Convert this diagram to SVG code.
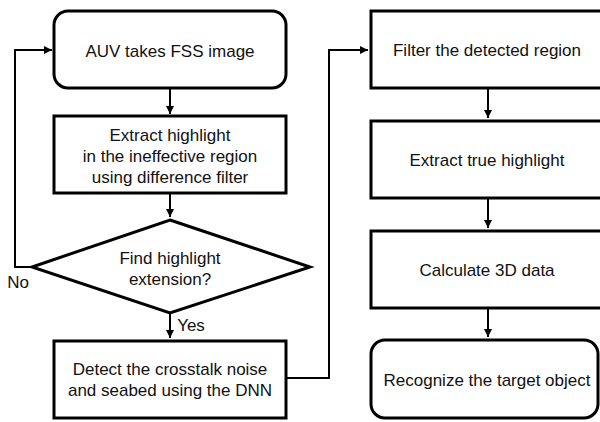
<svg xmlns="http://www.w3.org/2000/svg" width="600" height="422" viewBox="0 0 600 422">
  <style>
    .box { fill: #ffffff; stroke: #000000; stroke-width: 3; }
    .line { fill: none; stroke: #000000; stroke-width: 2; }
    text { font-family: "Liberation Sans", Arial, sans-serif; font-size: 17px; fill: #111111; text-anchor: middle; dominant-baseline: central; }
  </style>
  <defs>
    <marker id="arrow" viewBox="0 0 10 10" refX="10" refY="5" markerWidth="4" markerHeight="4" orient="auto" markerUnits="strokeWidth">
      <path d="M0,0 L10,5 L0,10 z" fill="#000000"/>
    </marker>
  </defs>
  <rect width="600" height="422" fill="#ffffff"/>

  <g id="connectors">
    <path class="line" d="M170,88 V114" marker-end="url(#arrow)"/>
    <path class="line" d="M170,193 V217" marker-end="url(#arrow)"/>
    <path class="line" d="M32,267 H15 V50 H52" marker-end="url(#arrow)"/>
    <path class="line" d="M170,313 V338" marker-end="url(#arrow)"/>
    <path class="line" d="M287,378 H329 V50 H368" marker-end="url(#arrow)"/>
    <path class="line" d="M488,88 V118" marker-end="url(#arrow)"/>
    <path class="line" d="M488,198 V228" marker-end="url(#arrow)"/>
    <path class="line" d="M488,308 V337" marker-end="url(#arrow)"/>
    <text x="18" y="282">No</text>
    <text x="191" y="325">Yes</text>
  </g>

  <g id="auv-image">
    <rect class="box" x="54" y="11" width="232" height="77" rx="14"/>
    <text x="170" y="51">AUV takes FSS image</text>
  </g>

  <g id="extract-highlight">
    <rect class="box" x="54" y="116" width="232" height="77"/>
    <text x="170" y="135">Extract highlight</text>
    <text x="170" y="156">in the ineffective region</text>
    <text x="170" y="177">using difference filter</text>
  </g>

  <g id="find-extension">
    <polygon class="box" points="170,220 310,267 170,313 32,267"/>
    <text x="170" y="258">Find highlight</text>
    <text x="170" y="279">extension?</text>
  </g>

  <g id="detect-noise">
    <rect class="box" x="54" y="341" width="232" height="77"/>
    <text x="170" y="369">Detect the crosstalk noise</text>
    <text x="170" y="390">and seabed using the DNN</text>
  </g>

  <g id="filter-region">
    <rect class="box" x="371" y="11" width="240" height="77"/>
    <text x="487" y="50">Filter the detected region</text>
  </g>

  <g id="true-highlight">
    <rect class="box" x="371" y="121" width="240" height="77"/>
    <text x="487" y="160">Extract true highlight</text>
  </g>

  <g id="calculate-3d">
    <rect class="box" x="371" y="231" width="240" height="77"/>
    <text x="487" y="270">Calculate 3D data</text>
  </g>

  <g id="recognize-target">
    <rect class="box" x="371" y="340" width="227" height="78" rx="14"/>
    <text x="487" y="380">Recognize the target object</text>
  </g>
</svg>
